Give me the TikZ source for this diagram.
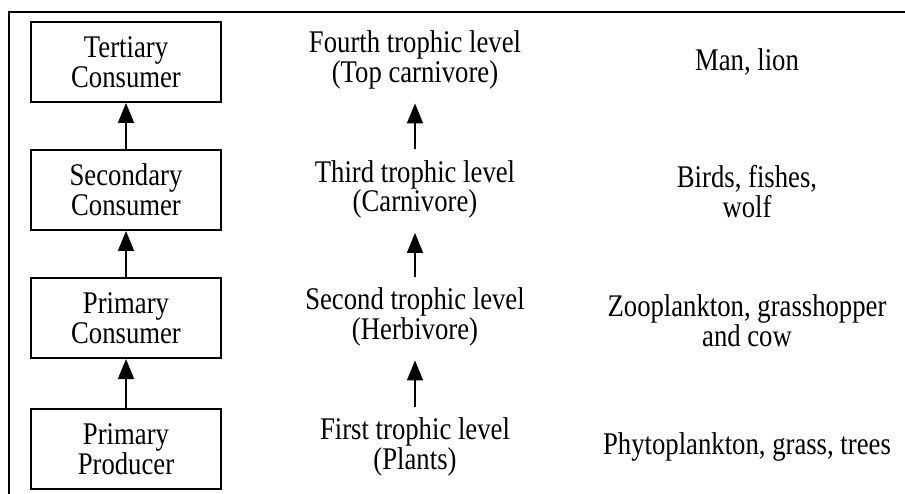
\documentclass[tikz,border=0pt]{standalone}
\usepackage{fontspec}
\setmainfont{Liberation Serif}
\usetikzlibrary{arrows.meta}
\begin{document}
\begin{tikzpicture}[x=1pt,y=-0.84746pt,yscale=1.18,transform shape,
  levelbox/.style={draw,line width=1.6pt,minimum width=190pt,minimum height=67.8pt,inner sep=0pt,align=center,
    font=\fontsize{26.7}{25.4}\selectfont},
  midtext/.style={inner sep=0pt,align=center,font=\fontsize{26.7}{22.5}\selectfont},
  righttext/.style={inner sep=0pt,align=center,font=\fontsize{26.7}{25.4}\selectfont},
  arr/.style={line width=1.6pt,-{Triangle[length=20pt,width=16pt]}},
  midarr/.style={arr,shorten <=11pt,shorten >=14pt}]
\useasboundingbox (0,0) rectangle (905,494);
\draw[line width=2pt] (9,494) -- (9,12) -- (905,12);
% left boxes
\node[levelbox] (ter) at (126,62) {Tertiary\\Consumer};
\node[levelbox] (sec) at (126,190) {Secondary\\Consumer};
\node[levelbox] (pri) at (126,318) {Primary\\Consumer};
\node[levelbox] (pro) at (126,449) {Primary\\Producer};
\draw[arr] (sec) -- (ter);
\draw[arr] (pri) -- (sec);
\draw[arr] (pro) -- (pri);
% middle column
\node[midtext] (fourth) at (415,60) {Fourth trophic level\\(Top carnivore)};
\node[midtext] (third) at (415,189.5) {Third trophic level\\(Carnivore)};
\node[midtext] (second) at (415,317) {Second trophic level\\(Herbivore)};
\node[midtext] (first) at (415,447) {First trophic level\\(Plants)};
\draw[midarr] (third) -- (fourth);
\draw[midarr] (second) -- (third);
\draw[midarr] (first) -- (second);
% right column
\node[righttext] (ex4) at (747,62) {Man, lion};
\node[righttext] (ex3) at (747,192) {Birds, fishes,\\wolf};
\node[righttext] (ex2) at (747,321) {Zooplankton, grasshopper\\and cow};
\node[righttext] (ex1) at (747,447) {Phytoplankton, grass, trees};
\end{tikzpicture}
\end{document}
